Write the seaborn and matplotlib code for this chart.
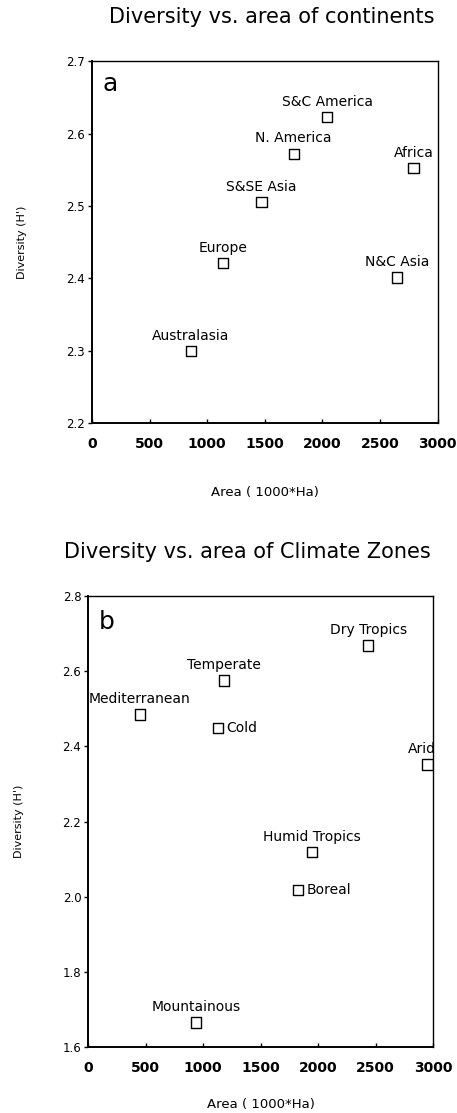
import matplotlib
matplotlib.use("Agg")
import matplotlib.pyplot as plt
import seaborn as sns
import pandas as pd

# --- DATA ---
continents = ["S&C America", "N. America", "Africa", "S&SE Asia",
              "Europe", "N&C Asia", "Australasia"]
continent_area = [2040, 1750, 2790, 1470, 1135, 2645, 860]
continent_div = [2.623, 2.572, 2.552, 2.505, 2.421, 2.401, 2.299]
continent_pos = ["above", "above", "above", "above", "above", "above", "above"]

zones = ["Dry Tropics", "Temperate", "Mediterranean", "Cold", "Arid",
         "Humid Tropics", "Boreal", "Mountainous"]
zone_area = [2435, 1180, 450, 1130, 2950, 1945, 1825, 940]
zone_div = [2.668, 2.575, 2.485, 2.448, 2.352, 2.118, 2.018, 1.665]
zone_pos = ["above", "above", "above", "right", "above_left",
            "above", "right", "above"]

x_ticks = [0, 500, 1000, 1500, 2000, 2500, 3000]

df_a = pd.DataFrame({"area": continent_area, "div": continent_div,
                     "name": continents, "pos": continent_pos})
df_b = pd.DataFrame({"area": zone_area, "div": zone_div,
                     "name": zones, "pos": zone_pos})

# --- STYLE ---
sns.set_theme(style="ticks")
plt.rcParams["font.family"] = ["DejaVu Sans"]
plt.rcParams["text.color"] = "black"
plt.rcParams["axes.labelcolor"] = "black"
plt.rcParams["xtick.color"] = "black"
plt.rcParams["ytick.color"] = "black"

fig = plt.figure(figsize=(4.57, 11.13), dpi=100)
ax_a = fig.add_axes([0.201, 0.620, 0.757, 0.325])
ax_b = fig.add_axes([0.193, 0.0593, 0.755, 0.4052])


def draw_panel(ax, df, ylim, yticks, letter, xpad):
    sns.scatterplot(data=df, x="area", y="div", ax=ax, marker="s", s=55,
                    facecolor="none", edgecolor="black", linewidth=1.0,
                    legend=False, zorder=3)
    for _, r in df.iterrows():
        if r["pos"] == "right":
            ax.annotate(r["name"], (r["area"], r["div"]), xytext=(6, 0),
                        textcoords="offset points", ha="left", va="center",
                        fontsize=10)
        elif r["pos"] == "above_left":
            ax.annotate(r["name"], (r["area"], r["div"]), xytext=(-4, 6),
                        textcoords="offset points", ha="center", va="bottom",
                        fontsize=10)
        else:
            ax.annotate(r["name"], (r["area"], r["div"]), xytext=(0, 6),
                        textcoords="offset points", ha="center", va="bottom",
                        fontsize=10)
    ax.set_xlim(0, 3000)
    ax.set_ylim(*ylim)
    ax.set_xticks(x_ticks)
    ax.set_xticklabels([str(t) for t in x_ticks], fontsize=10, fontweight="bold")
    ax.set_yticks(yticks)
    ax.set_yticklabels([f"{t:.1f}" for t in yticks], fontsize=8.5)
    ax.tick_params(axis="x", direction="in", length=3, width=1, pad=10)
    ax.tick_params(axis="y", direction="out", length=3, width=1, pad=2)
    for sp in ax.spines.values():
        sp.set_color("black")
        sp.set_linewidth(1.0)
    for sp in ["left", "bottom"]:
        ax.spines[sp].set_linewidth(1.4)
    ax.set_xlabel("Area ( 1000*Ha)", fontsize=9.5, labelpad=xpad)
    ax.set_ylabel("Diversity (H')", fontsize=8, labelpad=28)
    ax.text(0.03, 0.97, letter, transform=ax.transAxes, fontsize=18,
            ha="left", va="top")


draw_panel(ax_a, df_a, (2.2, 2.7), [2.2, 2.3, 2.4, 2.5, 2.6, 2.7], "a", 25)
draw_panel(ax_b, df_b, (1.6, 2.8), [1.6, 1.8, 2.0, 2.2, 2.4, 2.6, 2.8], "b", 17)

fig.text(0.595, 0.985, "Diversity vs. area of continents", ha="center",
         va="center", fontsize=15)
fig.text(0.542, 0.504, "Diversity vs. area of Climate Zones", ha="center",
         va="center", fontsize=15)

fig.savefig("out.png", dpi=100, facecolor="white")
